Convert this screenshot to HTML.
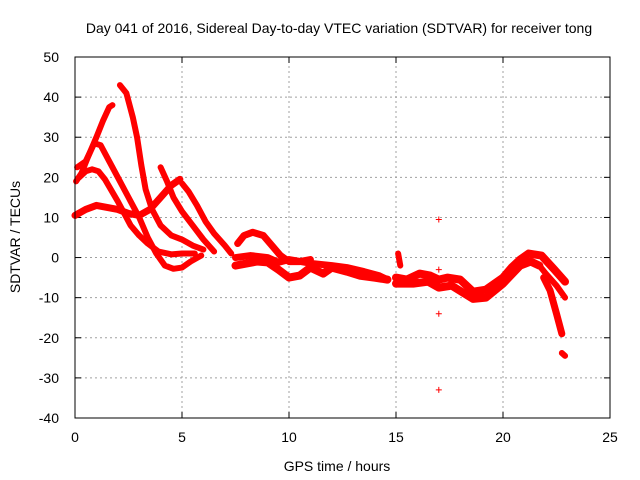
<!DOCTYPE html>
<html><head><meta charset="utf-8"><style>
body{margin:0;background:#fff;}
svg{display:block;font-family:"Liberation Sans",sans-serif;}
</style></head><body>
<svg id="chart" width="640" height="480">
<text x="339" y="33" font-size="14" text-anchor="middle">Day 041 of 2016, Sidereal Day-to-day VTEC variation (SDTVAR) for receiver tong</text>
<text x="337" y="471" font-size="14" text-anchor="middle">GPS time / hours</text>
<text transform="translate(20,237) rotate(-90)" font-size="14" text-anchor="middle">SDTVAR / TECUs</text>
<g id="grid"></g>
<g id="ticks"></g>
<g id="marks"></g>
<rect x="75" y="57" width="535" height="361" fill="none" stroke="#000" stroke-width="1"/>
</svg>
<script>
const xTicks=[0,5,10,15,20,25];
const yTicks=[50,40,30,20,10,0,-10,-20,-30,-40];
const arcA1=[[0.05,19],[0.3,21],[0.6,25],[1.0,30],[1.3,34],[1.6,37.5],[1.75,38]];
const arcA2=[[0.1,22.5],[0.5,24],[0.9,28.5],[1.2,28],[1.6,24],[2,20],[2.5,15],[3,10],[3.4,5],[3.8,1],[4.2,-2],[4.6,-2.8],[5,-2.5],[5.4,-1],[5.9,0.5]];
const arcA3=[[0.2,20],[0.5,21.5],[0.8,22],[1.1,21.5],[1.4,19.5],[2,14],[2.6,8],[3,5.5],[3.4,3.5],[3.9,1.5],[4.5,0.8],[5,1],[5.6,1]];
const arcA4=[[0,10.5],[0.5,12],[1,13],[1.5,12.5],[2,12],[2.5,11],[3,10.5],[3.5,12],[4,15],[4.5,18],[4.9,19.5]];
const arcA5=[[2.1,43],[2.4,41],[2.7,35],[2.9,30],[3.1,23],[3.3,17],[3.6,12],[4,8],[4.5,5.5],[5,4.5],[5.5,3],[6,2]];
const arcA6=[[4,22.5],[4.3,19],[4.6,15],[5,11.5],[5.5,8],[6,4.5],[6.5,1.5]];
const arcA7=[[5,18.5],[5.3,16.5],[5.7,13],[6.1,9],[6.5,6],[7,3],[7.3,1]];
const arcA8=[[7.6,3.5],[7.9,5.5],[8.3,6.3],[8.8,5.5],[9.2,3],[9.6,0.5],[10,-1],[10.5,-1],[11,-0.5]];
const arcA9=[[7.5,-2],[8,-1.5],[8.5,-1],[9,-1.2],[9.5,-3],[10,-5],[10.5,-4.5],[11,-2.5],[11.6,-4],[12,-2.5],[12.7,-3.5],[13.3,-4.5],[14,-5],[14.6,-5.5]];
const arcA10=[[7.5,0],[8.2,0.5],[9,0],[9.5,-1.2],[10,-0.5],[11.1,-1.5],[12,-2],[12.7,-2.5],[13.5,-3.5],[14.2,-4.5],[14.6,-5.5]];
const arcB1=[[15,-5],[15.5,-5.5],[16.1,-4],[16.6,-4.5],[17,-5.5],[17.4,-5],[18,-5.5],[18.6,-8.5],[19.2,-8],[20,-5],[20.4,-2.5],[20.8,-0.5],[21.2,1],[21.8,0.5],[22.4,-3],[22.9,-6]];
const arcB2=[[15,-6.5],[15.8,-6.5],[16.5,-6],[17,-7.5],[17.6,-7],[18.6,-10.3],[19.2,-10],[20,-6.5],[20.8,-2],[21.3,-1],[21.7,-2]];
const arcB3=[[15.1,1],[15.2,-2]];
const arcB4=[[21.7,-2],[22,-4],[22.5,-7],[22.9,-10]];
const arcB5=[[21.9,-5],[22.2,-8.2],[22.5,-14],[22.75,-19]];
const arcB6=[[22.75,-23.8],[22.9,-24.5]];
const isolated=[[17,9.5],[17,-3],[17,-14],[17,-33],[16.9,-5.5]];
const series=[arcA1,arcA2,arcA3,arcA4,arcA5,arcA6,arcA7,arcA8,arcA9,arcA10,arcB1,arcB2,arcB3,arcB4,arcB5,arcB6];
const widths=[6,6,6,7,6,6,6,7,8,7,8,8,6,6,7,6];

const NS='http://www.w3.org/2000/svg';
const X0=75,X1=610,Y0=418,Y1=57,xmin=0,xmax=25,ymin=-40,ymax=50;
function xs(v){return X0+(v-xmin)/(xmax-xmin)*(X1-X0);}
function ys(v){return Y0-(v-ymin)/(ymax-ymin)*(Y0-Y1);}
const grid=document.getElementById('grid'),ticks=document.getElementById('ticks'),marks=document.getElementById('marks');
function mk(tag,attrs,parent){const e=document.createElementNS(NS,tag);for(const k in attrs)e.setAttribute(k,attrs[k]);parent.appendChild(e);return e;}
xTicks.forEach(t=>{
  const x=xs(t);
  if(t>xmin&&t<xmax){const g=mk('line',{x1:x,x2:x,y1:Y0,y2:Y1,stroke:'#a0a0a0','stroke-dasharray':'2,3'},grid);
  
  }
  mk('line',{x1:x,x2:x,y1:Y0,y2:Y0-6,stroke:'#000'},ticks);
  mk('line',{x1:x,x2:x,y1:Y1,y2:Y1+6,stroke:'#000'},ticks);
  const tx=mk('text',{x:x,y:Y0+24,'font-size':14,'text-anchor':'middle'},ticks);tx.textContent=t;
  
  
});
yTicks.forEach(t=>{
  const y=ys(t);
  if(t>ymin&&t<ymax){const g=mk('line',{x1:X0,x2:X1,y1:y,y2:y,stroke:'#a0a0a0','stroke-dasharray':'2,3'},grid);
  
  }
  mk('line',{x1:X0,x2:X0+6,y1:y,y2:y,stroke:'#000'},ticks);
  mk('line',{x1:X1,x2:X1-6,y1:y,y2:y,stroke:'#000'},ticks);
  const tx=mk('text',{x:X0-16,y:y+5,'font-size':14,'text-anchor':'end'},ticks);tx.textContent=t;
  
  
});
series.forEach((s,i)=>{
  const p=mk('polyline',{points:s.map(d=>xs(d[0])+','+ys(d[1])).join(' '),fill:'none',stroke:'#ff0000','stroke-width':widths[i],'stroke-linejoin':'round','stroke-linecap':'round'},marks);
  
  
});
isolated.forEach(d=>{
  const x=xs(d[0]),y=ys(d[1]);
  const p=mk('path',{d:`M${x-3},${y}H${x+3}M${x},${y-3}V${y+3}`,stroke:'#ff0000','stroke-width':1},marks);
  
  
});
</script>
</body></html>
